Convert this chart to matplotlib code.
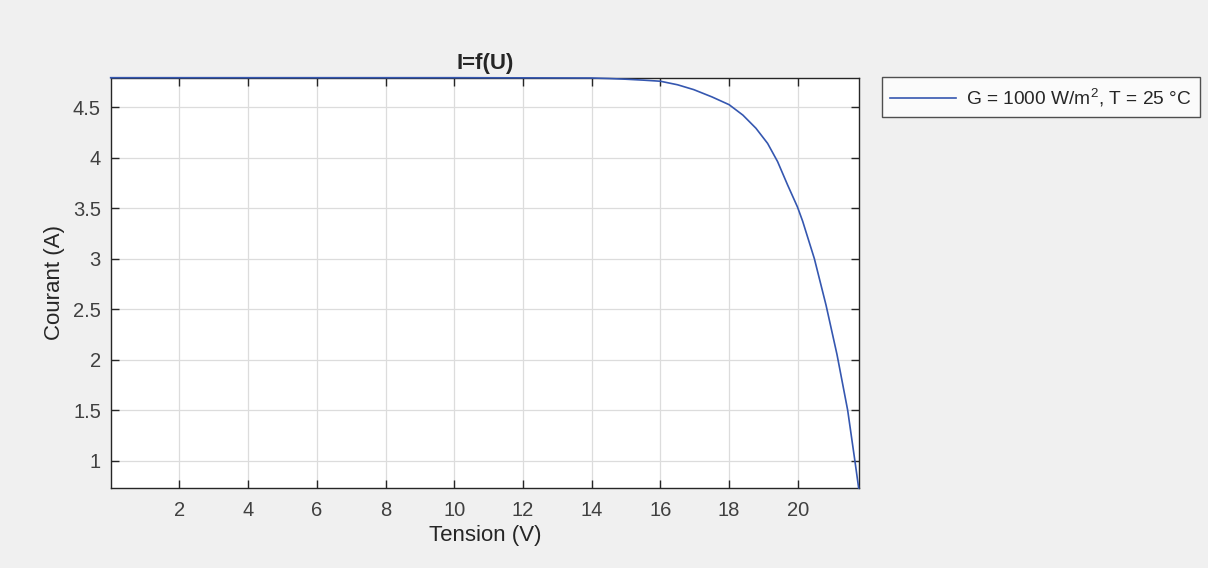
import matplotlib
matplotlib.use('Agg')
import matplotlib.pyplot as plt

# I-V curve of the PV module
tension = [0.0, 10.0, 14.0, 14.5, 15.0, 15.5, 16.0, 16.5, 16.97, 17.5,
           18.0, 18.4, 18.78, 19.12, 19.41, 19.7, 19.99, 20.14, 20.48,
           20.82, 21.14, 21.45, 21.66, 21.77]
courant = [4.79, 4.79, 4.787, 4.782, 4.775, 4.766, 4.755, 4.72, 4.672, 4.60,
           4.523, 4.42, 4.29, 4.14, 3.96, 3.73, 3.51, 3.37, 3.0,
           2.54, 2.05, 1.5, 1.0, 0.73]
legend_label = 'G = 1000 W/m$^2$, T = 25 °C'
xticks = [2, 4, 6, 8, 10, 12, 14, 16, 18, 20]
yticks = [1, 1.5, 2, 2.5, 3, 3.5, 4, 4.5]

plt.rcParams['font.family'] = ['Liberation Sans', 'DejaVu Sans']
plt.rcParams['mathtext.fontset'] = 'custom'
plt.rcParams['mathtext.rm'] = 'Liberation Sans'

fig = plt.figure(figsize=(12.08, 5.68), dpi=100, facecolor='#f0f0f0')
ax = fig.add_axes([0.0916, 0.1408, 0.6195, 0.7224])
ax.set_facecolor('white')

line, = ax.plot(tension, courant, color='#3557b0', lw=1.2,
                clip_on=False, zorder=5)

ax.set_xlim(0, 21.78)
ax.set_ylim(0.73, 4.79)
ax.set_xticks(xticks)
ax.set_yticks(yticks)
ax.set_xticklabels([str(t) for t in xticks])
ax.set_yticklabels([('%g' % t) for t in yticks])

ax.grid(True, color='#dcdcdc', lw=0.9)
ax.set_axisbelow(True)
for s in ax.spines.values():
    s.set_color('#262626')
    s.set_linewidth(1.0)
ax.tick_params(direction='in', length=6, width=1.0, color='#262626',
               labelcolor='#404040', labelsize=14.5, top=True, right=True)
ax.tick_params(axis='x', pad=9)
ax.tick_params(axis='y', pad=7)

ax.set_title('I=f(U)', fontsize=16, fontweight='bold', color='#262626', pad=6)
ax.set_xlabel('Tension (V)', fontsize=16, color='#262626', labelpad=4)
ax.set_ylabel('Courant (A)', fontsize=16, color='#262626', labelpad=6)

leg = ax.legend([line], [legend_label], loc='upper left',
                bbox_to_anchor=(0.7299, 0.8639), bbox_transform=fig.transFigure,
                fontsize=13.8, frameon=True, fancybox=False, borderpad=0.45,
                handlelength=3.4, handletextpad=0.55, borderaxespad=0)
leg.get_frame().set_edgecolor('#262626')
leg.get_frame().set_linewidth(1.0)
for t in leg.get_texts():
    t.set_color('#262626')

fig.savefig('out.png', dpi=100, facecolor=fig.get_facecolor())
